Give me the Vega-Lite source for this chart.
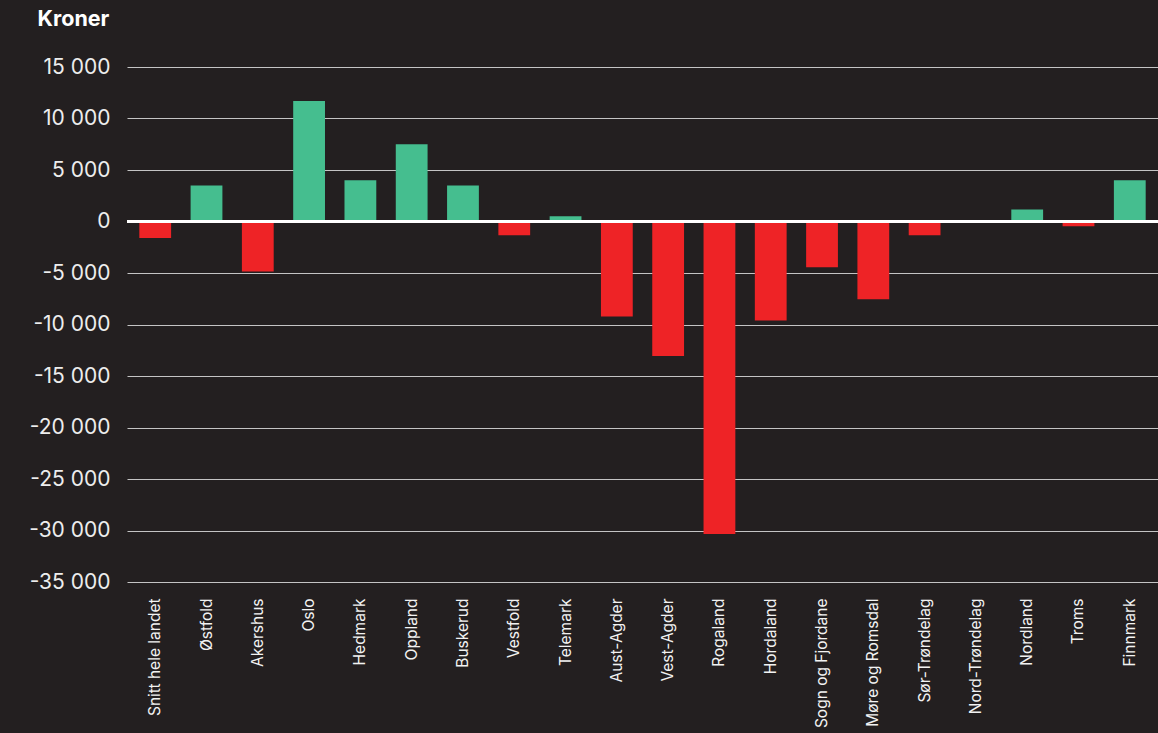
{
  "$schema": "https://vega.github.io/schema/vega-lite/v6.json",
  "autosize": {"type": "none"},
  "width": 1031,
  "height": 515,
  "padding": {"left": 127, "top": 67, "right": 0, "bottom": 151},
  "background": "#231f20",
  "config": {
    "view": {"stroke": null},
    "font": "Inter"
  },
  "data": {
    "values": [
      {"fylke": "Snitt hele landet", "kroner": -1600},
      {"fylke": "Østfold", "kroner": 3500},
      {"fylke": "Akershus", "kroner": -4850},
      {"fylke": "Oslo", "kroner": 11700},
      {"fylke": "Hedmark", "kroner": 4000},
      {"fylke": "Oppland", "kroner": 7500},
      {"fylke": "Buskerud", "kroner": 3500},
      {"fylke": "Vestfold", "kroner": -1330},
      {"fylke": "Telemark", "kroner": 500},
      {"fylke": "Aust-Agder", "kroner": -9220},
      {"fylke": "Vest-Agder", "kroner": -13050},
      {"fylke": "Rogaland", "kroner": -30350},
      {"fylke": "Hordaland", "kroner": -9600},
      {"fylke": "Sogn og Fjordane", "kroner": -4450},
      {"fylke": "Møre og Romsdal", "kroner": -7560},
      {"fylke": "Sør-Trøndelag", "kroner": -1330},
      {"fylke": "Nord-Trøndelag", "kroner": 0},
      {"fylke": "Nordland", "kroner": 1170},
      {"fylke": "Troms", "kroner": -450},
      {"fylke": "Finnmark", "kroner": 4000}
    ]
  },
  "layer": [
    {
      "mark": {"type": "bar"},
      "encoding": {
        "x": {
          "field": "fylke", "type": "nominal", "sort": null,
          "scale": {"paddingInner": 0.38, "paddingOuter": 0.24},
          "axis": {
            "title": null, "labelAngle": -90, "labelColor": "#f2f2f2", "labelFontSize": 15.5,
            "labelPadding": 16, "domain": false, "ticks": false, "labelAlign": "right", "labelBaseline": "middle",
            "labelLimit": 200
          }
        },
        "y": {
          "field": "kroner", "type": "quantitative",
          "scale": {"domain": [-35000, 15000], "nice": false},
          "axis": {
            "values": [-35000, -30000, -25000, -20000, -15000, -10000, -5000, 0, 5000, 10000, 15000],
            "labelExpr": "(datum.value < 0 ? '-' : '') + (abs(datum.value) >= 1000 ? floor(abs(datum.value) / 1000) + ' 000' : '' + abs(datum.value))",
            "domain": false, "ticks": false,
            "labelColor": "#ededed", "labelFontSize": 21, "labelPadding": 17,
            "gridColor": "#c4c4c4", "gridWidth": 1.2,
            "title": "Kroner", "titleAngle": 0, "titleAlign": "left", "titleBaseline": "alphabetic",
            "titleX": -90, "titleY": -42, "titleColor": "#ffffff", "titleFontSize": 21.5, "titleFontWeight": "bold"
          }
        },
        "color": {
          "condition": {"test": "datum.kroner < 0", "value": "#ee2326"},
          "value": "#45be8f"
        }
      }
    },
    {
      "mark": {"type": "rule", "color": "#ffffff", "strokeWidth": 2},
      "encoding": {"y": {"datum": 0}}
    }
  ]
}
